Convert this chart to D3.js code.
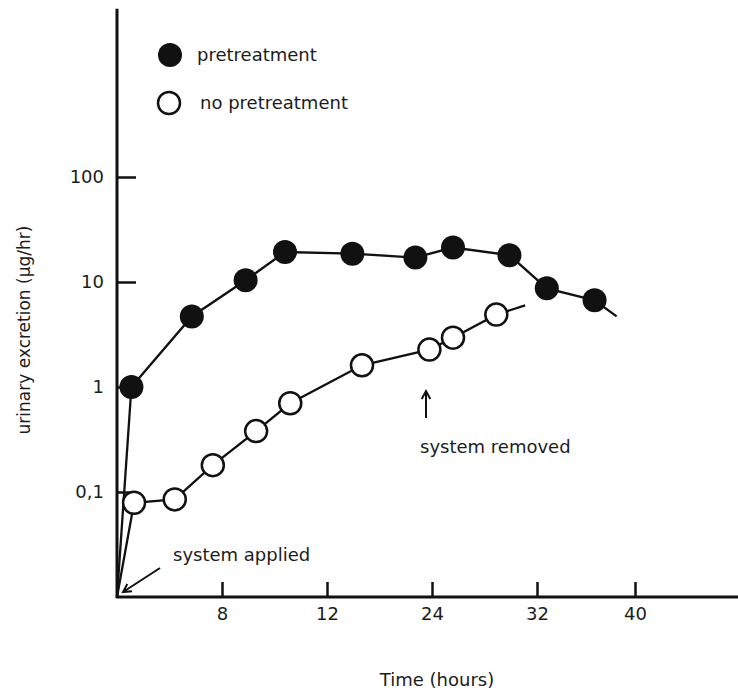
<!DOCTYPE html>
<html>
<head>
<meta charset="utf-8">
<script src="https://cdn.jsdelivr.net/npm/d3@7/dist/d3.min.js"></script>
<style>
  body { margin: 0; background: #fff; }
  text { font-family: "DejaVu Sans", sans-serif; fill: #1c1c1c; }
</style>
</head>
<body>
<div id="chart"></div>
<script>
let width = 738,
  height = 691;

// x ticks are not evenly spaced in hours in the original print
let tickHours = [8, 12, 24, 32, 40];
let tickLabels = ['8', '12', '24', '32', '40'];
let yTicks = [0.1, 1, 10, 100];
let yTickLabels = ['0,1', '1', '10', '100'];

// pretreatment (filled dots)
let preHours = [1.1, 5.7, 8.9, 10.4, 14.9, 22.1, 25.6, 29.9, 32.8, 36.7];
let preValues = [1.0, 4.7, 10.4, 19.3, 18.6, 17.1, 21.3, 18.0, 8.7, 6.7];
let preTail = [38.5, 4.7];

// no pretreatment (open dots)
let noHours = [1.3, 4.4, 7.3, 9.3, 10.6, 16.0, 23.7, 25.6, 28.9];
let noValues = [0.079, 0.085, 0.18, 0.38, 0.70, 1.61, 2.27, 2.95, 4.89];
let noTail = [31.1, 6.0];

// both curves start at the origin when the system is applied
let startPoint = [0, 0.01];

let svg = d3
  .select('#chart')
  .append('svg')
  .attr('width', width)
  .attr('height', height);

// piecewise scale so the printed ticks sit evenly spaced
let x = d3
  .scaleLinear()
  .domain([0, 8, 12, 24, 32, 40, 48])
  .range([117, 222, 327, 432, 537, 635, 738]);

let y = d3.scaleLog().domain([0.01, 100]).range([597, 177]);

// y axis
let yAxis = d3
  .axisLeft(y)
  .tickValues(yTicks)
  .tickFormat(function (d, i) {
    return yTickLabels[i];
  })
  .tickSizeInner(-19)
  .tickSizeOuter(0)
  .tickPadding(13);

let yG = svg.append('g').attr('transform', 'translate(' + x(0) + ',0)').call(yAxis);
yG.select('.domain').remove();
yG.selectAll('line').attr('stroke', '#111').attr('stroke-width', 2.5);
yG.selectAll('text').style('font-size', '18px').attr('fill', '#1c1c1c');

// x axis
let xAxis = d3
  .axisBottom(x)
  .tickValues(tickHours)
  .tickFormat(function (d, i) {
    return tickLabels[i];
  })
  .tickSizeInner(-15)
  .tickSizeOuter(0)
  .tickPadding(10);

let xG = svg.append('g').attr('transform', 'translate(0,' + y(0.01) + ')').call(xAxis);
xG.select('.domain').remove();
xG.selectAll('line').attr('stroke', '#111').attr('stroke-width', 2.5);
xG.selectAll('text').style('font-size', '18px').attr('fill', '#1c1c1c');

// axis lines drawn by hand so they run past the last tick like the print
svg
  .append('line')
  .attr('x1', x(0))
  .attr('x2', x(0))
  .attr('y1', y(0.01) + 1)
  .attr('y2', y(4000))
  .attr('stroke', '#111')
  .attr('stroke-width', 3);
svg
  .append('line')
  .attr('x1', x(0) - 1)
  .attr('x2', x(48))
  .attr('y1', y(0.01))
  .attr('y2', y(0.01))
  .attr('stroke', '#111')
  .attr('stroke-width', 3);

// axis titles
svg
  .append('text')
  .attr('transform', 'rotate(-90)')
  .attr('x', -330)
  .attr('y', 30)
  .attr('text-anchor', 'middle')
  .style('font-size', '17px')
  .text('urinary excretion (\u03bcg/hr)');

svg
  .append('text')
  .attr('x', 437)
  .attr('y', 686)
  .attr('text-anchor', 'middle')
  .style('font-size', '18px')
  .text('Time (hours)');

let line = d3
  .line()
  .x(function (d) {
    return x(d[0]);
  })
  .y(function (d) {
    return y(d[1]);
  });

let prePts = preHours.map(function (h, i) {
  return [h, preValues[i]];
});
let noPts = noHours.map(function (h, i) {
  return [h, noValues[i]];
});

svg
  .append('path')
  .attr('d', line([startPoint].concat(prePts, [preTail])))
  .attr('fill', 'none')
  .attr('stroke', '#111')
  .attr('stroke-width', 2.3);

svg
  .append('path')
  .attr('d', line([startPoint].concat(noPts, [noTail])))
  .attr('fill', 'none')
  .attr('stroke', '#111')
  .attr('stroke-width', 2.3);

svg
  .selectAll('.pre')
  .data(prePts)
  .enter()
  .append('circle')
  .attr('class', 'pre')
  .attr('cx', function (d) {
    return x(d[0]);
  })
  .attr('cy', function (d) {
    return y(d[1]);
  })
  .attr('r', 12)
  .attr('fill', '#111');

svg
  .selectAll('.nopre')
  .data(noPts)
  .enter()
  .append('circle')
  .attr('class', 'nopre')
  .attr('cx', function (d) {
    return x(d[0]);
  })
  .attr('cy', function (d) {
    return y(d[1]);
  })
  .attr('r', 11)
  .attr('fill', '#fff')
  .attr('stroke', '#111')
  .attr('stroke-width', 2.5);

// legend
svg.append('circle').attr('cx', 170).attr('cy', 55).attr('r', 12).attr('fill', '#111');
svg
  .append('text')
  .attr('x', 197)
  .attr('y', 61)
  .style('font-size', '18px')
  .text('pretreatment');
svg
  .append('circle')
  .attr('cx', 169)
  .attr('cy', 103)
  .attr('r', 11)
  .attr('fill', '#fff')
  .attr('stroke', '#111')
  .attr('stroke-width', 2.5);
svg
  .append('text')
  .attr('x', 200)
  .attr('y', 109)
  .style('font-size', '18px')
  .text('no pretreatment');

// annotations
function arrow(x1, y1, x2, y2) {
  let a = Math.atan2(y2 - y1, x2 - x1);
  let len = 9;
  svg
    .append('path')
    .attr(
      'd',
      'M' + x1 + ',' + y1 + 'L' + x2 + ',' + y2 +
        'M' + (x2 - len * Math.cos(a - 0.5)) + ',' + (y2 - len * Math.sin(a - 0.5)) +
        'L' + x2 + ',' + y2 +
        'L' + (x2 - len * Math.cos(a + 0.5)) + ',' + (y2 - len * Math.sin(a + 0.5))
    )
    .attr('fill', 'none')
    .attr('stroke', '#111')
    .attr('stroke-width', 2);
}

arrow(426, 418, 426, 391);
svg
  .append('text')
  .attr('x', 420)
  .attr('y', 453)
  .style('font-size', '18px')
  .text('system removed');

arrow(160, 568, 123, 592);
svg
  .append('text')
  .attr('x', 173)
  .attr('y', 561)
  .style('font-size', '18px')
  .text('system applied');
</script>
</body>
</html>
